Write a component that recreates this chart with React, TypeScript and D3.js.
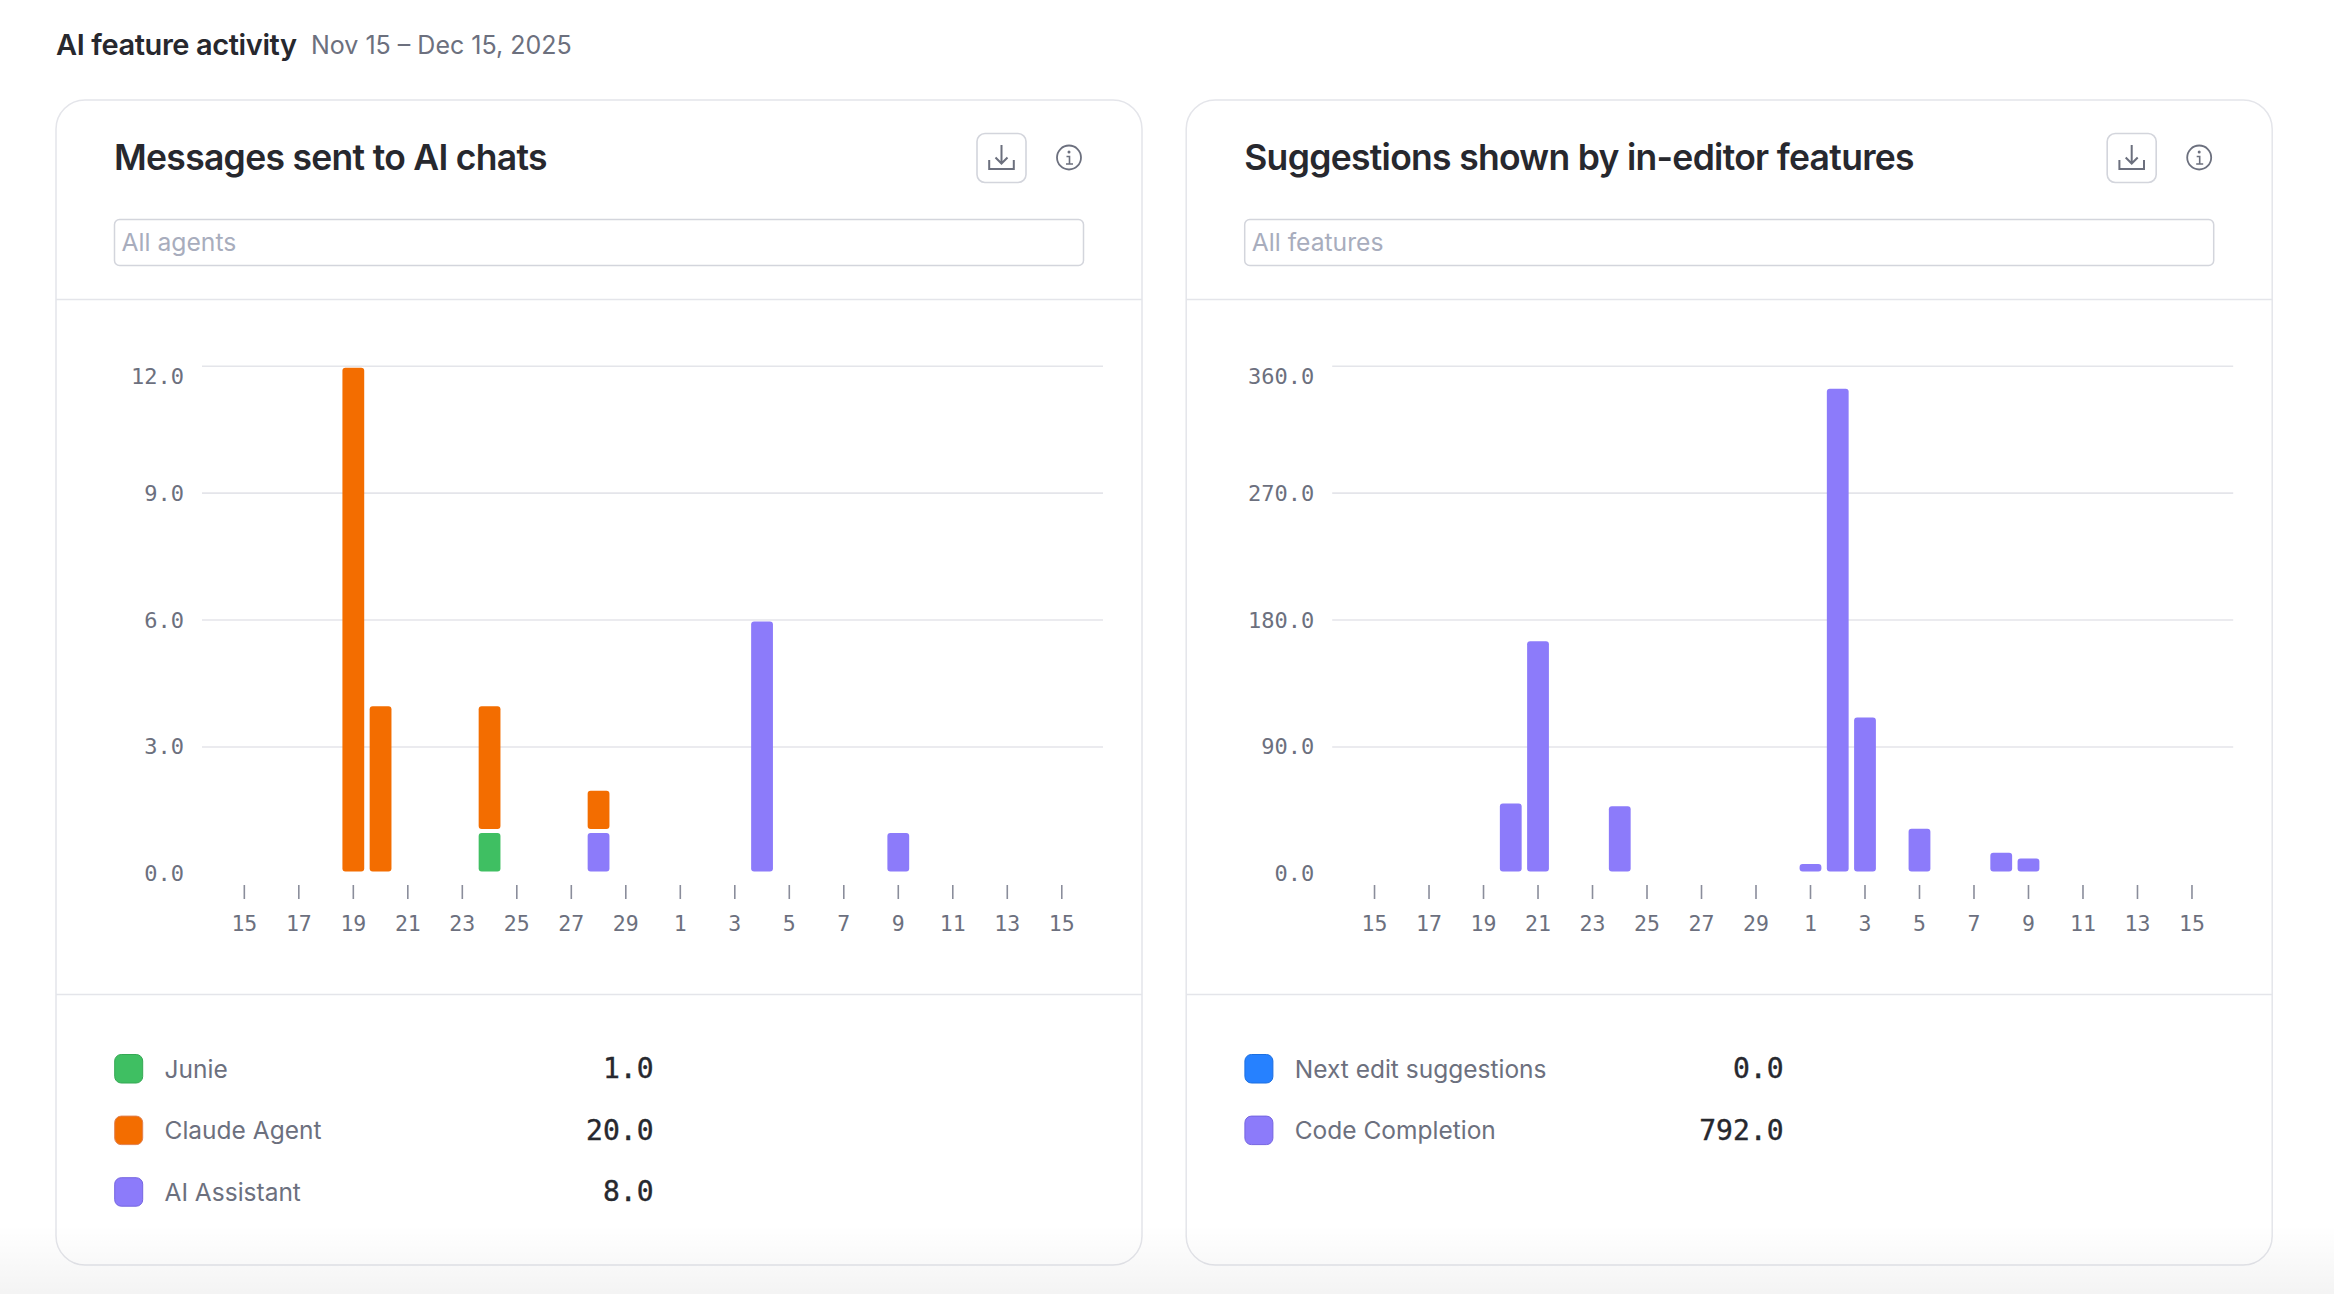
import React, { useEffect, useRef } from 'react';
import * as d3 from 'd3';

const days = ['15','16','17','18','19','20','21','22','23','24','25','26','27','28','29','30','1','2','3','4','5','6','7','8','9','10','11','12','13','14','15'];

// stacking order differs from the legend order: AI Assistant sits under Claude Agent on Nov 28
const junie       = [0,0,0,0,0,0,0,0,0,1,0,0,0,0,0,0,0,0,0,0,0,0,0,0,0,0,0,0,0,0,0];
const aiAssistant = [0,0,0,0,0,0,0,0,0,0,0,0,0,1,0,0,0,0,0,6,0,0,0,0,1,0,0,0,0,0,0];
const claudeAgent = [0,0,0,0,12,4,0,0,0,3,0,0,0,1,0,0,0,0,0,0,0,0,0,0,0,0,0,0,0,0,0];

const nextEdit       = [0,0,0,0,0,0,0,0,0,0,0,0,0,0,0,0,0,0,0,0,0,0,0,0,0,0,0,0,0,0,0];
const codeCompletion = [0,0,0,0,0,51,166,0,0,49,0,0,0,0,0,0,8,345,112,0,33,0,0,16,12,0,0,0,0,0,0];

const leftTicks = [0, 3, 6, 9, 12];
const rightTicks = [0, 90, 180, 270, 360];

const GREEN = '#3fbf62';
const ORANGE = '#f36d00';
const PURPLE = '#8c7bfa';
const BLUE = '#2681ff';

const leftSeries = [
  { name: 'Junie', values: junie, color: GREEN, border: '#35a854' },
  { name: 'AI Assistant', values: aiAssistant, color: PURPLE, border: '#7565e0' },
  { name: 'Claude Agent', values: claudeAgent, color: ORANGE, border: '#e08050' },
];
const leftLegend = [
  { name: 'Junie', total: '1.0', color: GREEN, border: '#35a854' },
  { name: 'Claude Agent', total: '20.0', color: ORANGE, border: '#e08050' },
  { name: 'AI Assistant', total: '8.0', color: PURPLE, border: '#7565e0' },
];
const rightSeries = [
  { name: 'Next edit suggestions', values: nextEdit, color: BLUE, border: '#1c6fe0' },
  { name: 'Code Completion', values: codeCompletion, color: PURPLE, border: '#7565e0' },
];
const rightLegend = [
  { name: 'Next edit suggestions', total: '0.0', color: BLUE, border: '#1c6fe0' },
  { name: 'Code Completion', total: '792.0', color: PURPLE, border: '#7565e0' },
];

const SANS = 'Inter, sans-serif';
const MONO = '"DejaVu Sans Mono", monospace';
const INK = '#27282e';
const GRAY = '#6c707e';
const LINE = '#e4e5ea';

type Series = { name: string; values: number[]; color: string; border: string };
type LegendRow = { name: string; total: string; color: string; border: string };

const BarPanel: React.FC<{ series: Series[]; ticks: number[] }> = ({ series, ticks }) => {
  const ref = useRef<SVGGElement | null>(null);

  useEffect(() => {
    const g = d3.select(ref.current);
    g.selectAll('*').remove();

    const x = d3
      .scaleBand<number>()
      .domain(days.map((_, i) => i))
      .range([230.7, 1075.4])
      .paddingInner(0.2)
      .paddingOuter(0.1);

    const y = d3
      .scaleLinear()
      .domain([0, d3.max(ticks)!])
      .range([873.4, 365.7]);

    // gridlines + y labels
    const yAxis = g
      .append('g')
      .attr('transform', 'translate(202,0)')
      .call(
        d3
          .axisLeft(y)
          .tickValues(ticks)
          .tickSize(-901)
          .tickPadding(18)
          .tickFormat(d => d3.format('.1f')(d as number)) as any
      );
    yAxis.select('.domain').remove();
    yAxis
      .selectAll('.tick line')
      .attr('stroke', LINE)
      .attr('stroke-width', 1.6)
      .attr('display', (d: any) => (d === 0 ? 'none' : null));
    yAxis
      .selectAll('.tick text')
      .attr('x', -18)
      .attr('dy', 0)
      .attr('y', (d: any) => (d === d3.max(ticks) ? 10 : 0))
      .attr('dominant-baseline', 'central')
      .attr('fill', GRAY)
      .attr('font-family', MONO)
      .attr('font-size', 22);

    // x axis, every second day
    const xAxis = g
      .append('g')
      .attr('transform', 'translate(0,885)')
      .call(
        d3
          .axisBottom(x)
          .tickValues(days.map((_, i) => i).filter(i => i % 2 === 0))
          .tickSize(14)
          .tickFormat(i => days[i as number]) as any
      );
    xAxis.select('.domain').remove();
    xAxis.selectAll('.tick line').attr('stroke', '#8a8d9b').attr('stroke-width', 1.6);
    xAxis
      .selectAll('.tick text')
      .attr('y', 38.5)
      .attr('dy', 0)
      .attr('dominant-baseline', 'central')
      .attr('fill', GRAY)
      .attr('font-family', MONO)
      .attr('font-size', 21.5);

    // stacked bars, each segment inset 2px so stacks show a gap
    const rows = days.map((_, i) => {
      const row: Record<string, number> = { index: i };
      series.forEach(s => (row[s.name] = s.values[i]));
      return row;
    });
    const stacked = d3.stack<Record<string, number>>().keys(series.map(s => s.name))(rows);

    const bars = g.append('g');
    stacked.forEach((layer, li) => {
      bars
        .append('g')
        .selectAll('rect')
        .data(layer.filter(d => d[1] > d[0]))
        .enter()
        .append('rect')
        .attr('x', d => x(d.data.index)!)
        .attr('y', d => y(d[1]) + 2)
        .attr('width', x.bandwidth())
        .attr('height', d => y(d[0]) - y(d[1]) - 4)
        .attr('rx', 3)
        .attr('fill', series[li].color);
    });
  }, [series, ticks]);

  return <g ref={ref} />;
};

const Card: React.FC<{
  dx: number;
  title: string;
  placeholder: string;
  series: Series[];
  legend: LegendRow[];
  ticks: number[];
  valueX: number;
}> = ({ dx, title, placeholder, series, legend, ticks, valueX }) => (
  <g transform={`translate(${dx},0)`}>
    <rect x={56} y={100} width={1086} height={1165} rx={29} fill="#fff" stroke={LINE} strokeWidth={1.5} />
    <line x1={56} x2={1142} y1={299.5} y2={299.5} stroke={LINE} strokeWidth={1.5} />
    <line x1={56} x2={1142} y1={994.5} y2={994.5} stroke={LINE} strokeWidth={1.5} />

    <text x={114} y={157} dominantBaseline="central" fontFamily={SANS} fontSize={35.5} fontWeight={600} letterSpacing={-0.7} fill={INK}>
      {title}
    </text>

    {/* download button */}
    <rect x={977} y={133.5} width={49} height={49} rx={8} fill="#fff" stroke="#d3d5dc" strokeWidth={1.6} />
    <g transform="translate(1001.5,158)" fill="none" stroke={GRAY} strokeWidth={2}>
      <path d="M0,-13 V5.5 M-6,-0.5 L0,5.5 L6,-0.5" />
      <path d="M-12.3,2 V11 H12.3 V2" />
    </g>

    {/* info icon */}
    <g transform="translate(1069,157.5)">
      <circle r={12} fill="none" stroke={GRAY} strokeWidth={1.8} />
      <circle cy={-5.5} r={1.5} fill={GRAY} />
      <path d="M-2.5,-1 H0.5 V6.5 M-3,6.5 H4" fill="none" stroke={GRAY} strokeWidth={1.6} />
    </g>

    <rect x={114.5} y={219.5} width={969} height={46} rx={5} fill="#fff" stroke="#d3d5dc" strokeWidth={1.5} />
    <text x={121.5} y={242} dominantBaseline="central" fontFamily={SANS} fontSize={24.7} fill="#a8adbd">
      {placeholder}
    </text>

    <BarPanel series={series} ticks={ticks} />

    {legend.map((row, i) => {
      const cy = 1068.5 + i * 61.6;
      return (
        <g key={row.name}>
          <rect x={114.7} y={cy - 14} width={28} height={28.5} rx={6.5} fill={row.color} stroke={row.border} strokeWidth={1} />
          <text x={164.5} y={cy} dominantBaseline="central" fontFamily={SANS} fontSize={24.5} fill={GRAY}>
            {row.name}
          </text>
          <text x={valueX} y={cy} dominantBaseline="central" textAnchor="end" fontFamily={MONO} fontSize={28} fill={INK} stroke={INK} strokeWidth={0.4}>
            {row.total}
          </text>
        </g>
      );
    })}
  </g>
);

const App: React.FC = () => (
  <svg
    width={2334}
    height={1294}
    viewBox="0 0 2334 1294"
    style={{ position: 'absolute', left: 0, top: 0, display: 'block', background: '#fff' }}
  >
    <defs>
      <linearGradient id="fade" x1="0" x2="0" y1="0" y2="1">
        <stop offset="0" stopColor="#000" stopOpacity={0} />
        <stop offset="1" stopColor="#000" stopOpacity={0.045} />
      </linearGradient>
    </defs>

    <text x={56} y={44} dominantBaseline="central" fontFamily={SANS} fontSize={29} fontWeight={600} letterSpacing={-0.4} fill={INK}>
      AI feature activity
    </text>
    <text x={311} y={44.5} dominantBaseline="central" fontFamily={SANS} fontSize={25} fill={GRAY}>
      Nov 15 – Dec 15, 2025
    </text>

    <Card dx={0} title="Messages sent to AI chats" placeholder="All agents" series={leftSeries} legend={leftLegend} ticks={leftTicks} valueX={653.5} />
    <Card dx={1130.2} title="Suggestions shown by in-editor features" placeholder="All features" series={rightSeries} legend={rightLegend} ticks={rightTicks} valueX={653.3} />

    <rect x={0} y={1225} width={2334} height={69} fill="url(#fade)" />
  </svg>
);

export default App;
